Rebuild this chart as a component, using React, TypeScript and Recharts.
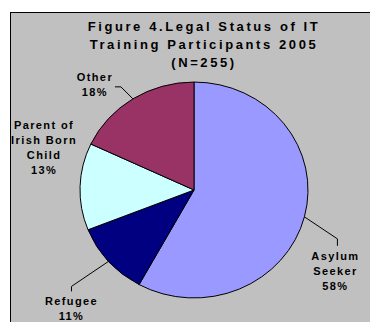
import { PieChart, Pie, Cell } from 'recharts'

const categories = ['Asylum Seeker', 'Refugee', 'Parent of Irish Born Child', 'Other']
const labelLines = [['Asylum', 'Seeker'], ['Refugee'], ['Parent of', 'Irish Born', 'Child'], ['Other']]
const shares = [58, 11, 13, 18]
const colors = ['#9999FF', '#000080', '#CCFFFF', '#993366']
const titleLines = ['Figure 4.Legal Status of IT', 'Training Participants 2005', '(N=255)']

const data = categories.map((name, i) => ({ name, value: shares[i] }))

// label placement relative to the slice edge at its mid angle
const labelLayout = [
  { line: [[33, 22], [33, 29]], text: [31, 43] },
  { line: [[-37, 25], [-37, 30]], text: [-37, 44] },
  { line: [], text: [-36, -58] },
  { line: [[-12, -12], [-18, -12]], text: [-38, -18] },
]

const FONT = '"Liberation Sans", Arial, sans-serif'
const SQUASH = 0.947
const RAD = Math.PI / 180

const edge = (cx: number, cy: number, r: number, angle: number) => ({
  x: cx + r * Math.cos(angle * RAD),
  y: cy - r * SQUASH * Math.sin(angle * RAD),
})

// eslint-disable-next-line @typescript-eslint/no-explicit-any
function EllipseSector(props: any) {
  const { cx, cy, outerRadius, startAngle, endAngle, fill } = props
  const a = edge(cx, cy, outerRadius, startAngle)
  const b = edge(cx, cy, outerRadius, endAngle)
  const large = Math.abs(startAngle - endAngle) > 180 ? 1 : 0
  const sweep = startAngle > endAngle ? 1 : 0
  return (
    <path
      d={`M${cx},${cy} L${a.x},${a.y} A${outerRadius},${outerRadius * SQUASH} 0 ${large} ${sweep} ${b.x},${b.y} Z`}
      fill={fill}
      stroke="#000000"
      strokeWidth={1}
    />
  )
}

// eslint-disable-next-line @typescript-eslint/no-explicit-any
function renderLabel(props: any) {
  const { cx, cy, midAngle, outerRadius, index, value } = props
  const p = edge(cx, cy, outerRadius, midAngle)
  const lay = labelLayout[index]
  const pts = [[0, 0], ...lay.line].map(([dx, dy]) => `${p.x + dx},${p.y + dy}`).join(' ')
  const tx = p.x + lay.text[0]
  const ty = p.y + lay.text[1]
  const lines = [...labelLines[index], `${value}%`]
  return (
    <g key={`lbl-${index}`}>
      {lay.line.length > 0 && <polyline points={pts} fill="none" stroke="#000000" strokeWidth={1} />}
      <text x={tx} y={ty} textAnchor="middle" fontFamily={FONT} fontSize={11} fontWeight="bold" fill="#000000" letterSpacing={1.4}>
        {lines.map((l, i) => (
          <tspan key={i} x={tx} dy={i === 0 ? 0 : 15}>{l}</tspan>
        ))}
      </text>
    </g>
  )
}

export default function App() {
  return (
    <div style={{ position: 'fixed', left: 0, top: 0, width: 370, height: 322, overflow: 'hidden', background: '#ffffff' }}>
      <div
        style={{
          position: 'absolute', left: 10, top: 12, width: 400, height: 340,
          border: '1px solid #000000', background: '#C0C0C0',
        }}
      >
        <div
          style={{
            position: 'absolute', left: 0, top: 5, width: 386, textAlign: 'center',
            fontFamily: FONT, fontWeight: 'bold', fontSize: 13, lineHeight: '18px',
            letterSpacing: 2.6, color: '#000000',
          }}
        >
          {titleLines.map((t, i) => <div key={i}>{t}</div>)}
        </div>
        <PieChart width={400} height={340} margin={{ top: 0, right: 0, bottom: 0, left: 0 }} style={{ position: 'absolute', left: 0, top: 0 }}>
          <Pie
            data={data}
            dataKey="value"
            nameKey="name"
            cx={183}
            cy={177}
            outerRadius={114}
            startAngle={90}
            endAngle={-270}
            stroke="#000000"
            strokeWidth={1}
            isAnimationActive={false}
            label={renderLabel}
            labelLine={false}
            shape={EllipseSector}
            inactiveShape={EllipseSector}
            activeShape={EllipseSector}
          >
            {data.map((d, i) => <Cell key={d.name} fill={colors[i]} />)}
          </Pie>
        </PieChart>
      </div>
    </div>
  )
}
